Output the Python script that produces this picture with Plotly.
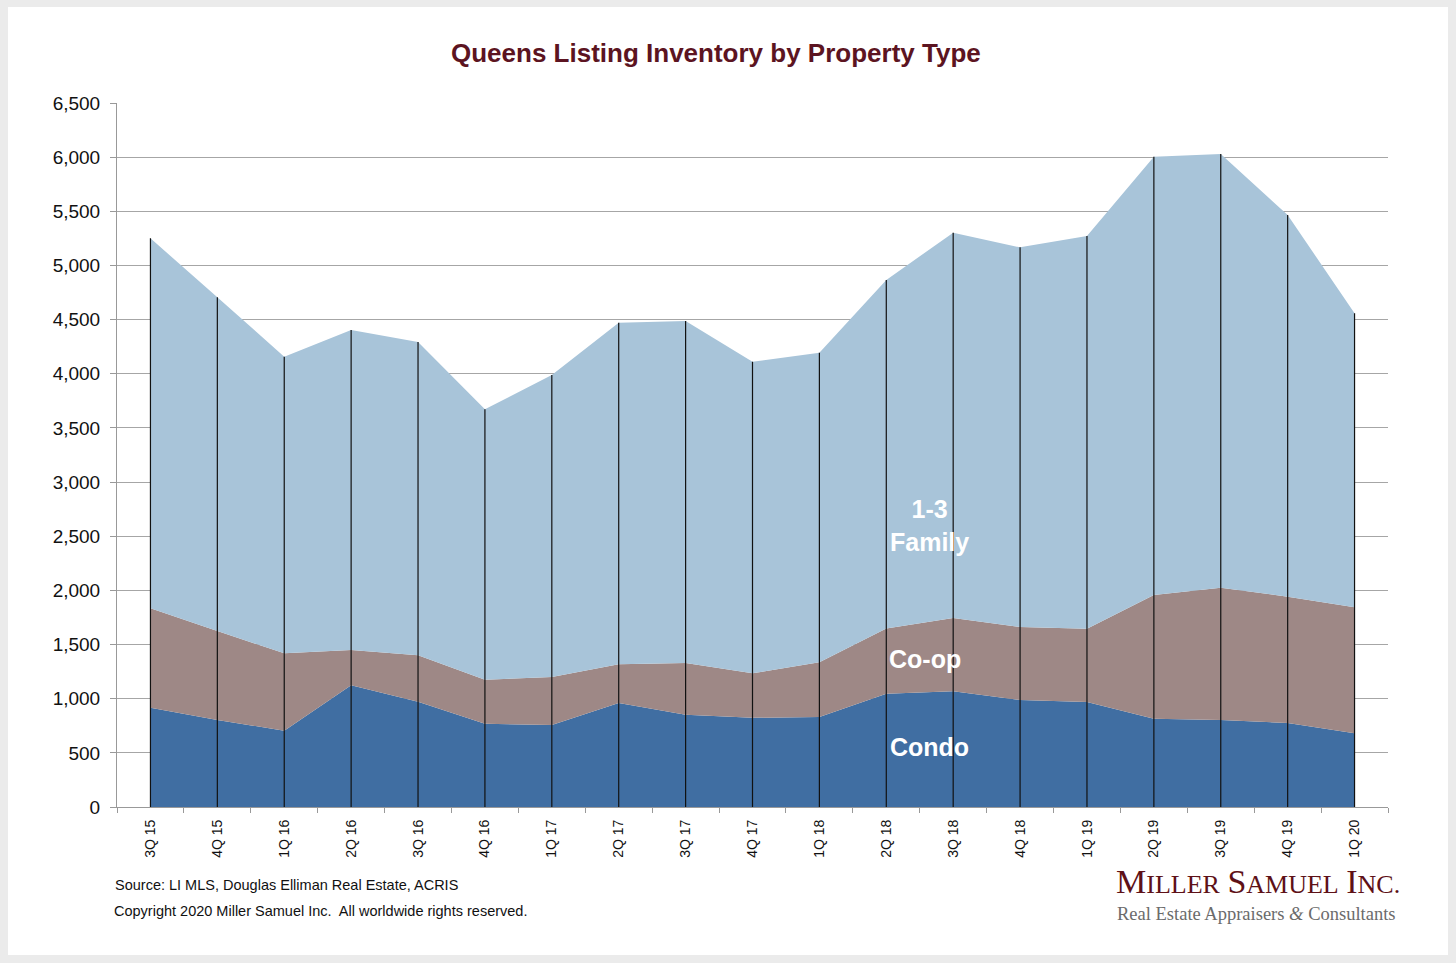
import plotly.graph_objects as go

quarters = ["3Q 15", "4Q 15", "1Q 16", "2Q 16", "3Q 16", "4Q 16", "1Q 17", "2Q 17",
            "3Q 17", "4Q 17", "1Q 18", "2Q 18", "3Q 18", "4Q 18", "1Q 19", "2Q 19",
            "3Q 19", "4Q 19", "1Q 20"]

condo = [917, 803, 705, 1124, 972, 769, 757, 960, 852, 824, 831, 1045, 1068, 988, 969,
         815, 803, 776, 680]
coop = [918, 822, 714, 326, 428, 406, 443, 357, 477, 410, 505, 603, 677, 674, 677,
        1142, 1222, 1166, 1164]
family = [3416, 3081, 2739, 2954, 2893, 2497, 2789, 3155, 3158, 2877, 2859, 3218, 3558,
          3505, 3626, 4047, 4004, 3524, 2714]

yticks = list(range(0, 7000, 500))

# total per quarter, used for the black drop lines
totals = [a + b + c for a, b, c in zip(condo, coop, family)]

fig = go.Figure()

fig.add_trace(go.Scatter(x=quarters, y=condo, name="Condo", stackgroup="one",
                         mode="none", fillcolor="#406ea2"))
fig.add_trace(go.Scatter(x=quarters, y=coop, name="Co-op", stackgroup="one",
                         mode="none", fillcolor="#9e8886"))
fig.add_trace(go.Scatter(x=quarters, y=family, name="1-3 Family", stackgroup="one",
                         mode="none", fillcolor="#a8c4d9"))

line_x, line_y = [], []
for q, t in zip(quarters, totals):
    line_x += [q, q, None]
    line_y += [0, t, None]
fig.add_trace(go.Scatter(x=line_x, y=line_y, mode="lines",
                         line=dict(color="#111111", width=1.2), hoverinfo="skip"))

white = "#ffffff"
lab_font = dict(family="Liberation Sans, Arial, sans-serif", size=25, color=white)
fig.add_annotation(x=11.64, y=2600, text="<b>1-3<br>Family</b>", showarrow=False,
                   font=lab_font, xref="x", yref="y")
fig.add_annotation(x=11.58, y=1366, text="<b>Co-op</b>", showarrow=False,
                   font=lab_font, xref="x", yref="y")
fig.add_annotation(x=11.64, y=554, text="<b>Condo</b>", showarrow=False,
                   font=lab_font, xref="x", yref="y")

# white card over the grey page
fig.add_shape(type="rect", xref="paper", yref="paper",
              x0=(8 - 117) / 1271, x1=(1448 - 117) / 1271,
              y0=(807 - 955) / 704, y1=(807 - 7) / 704,
              fillcolor="white", line=dict(width=0), layer="below")


def px(x, y):
    # page pixel -> paper coords
    return (x - 117) / 1271, (807 - y) / 704


tx, ty = px(716, 53)
fig.add_annotation(x=tx, y=ty, xref="paper", yref="paper", xanchor="center", yanchor="middle",
                   text="<b>Queens Listing Inventory by Property Type</b>",
                   showarrow=False, font=dict(size=26, color="#5c1421",
                                              family="Liberation Sans, Arial, sans-serif"))

foot = dict(size=14.5, color="#111111", family="Liberation Sans, Arial, sans-serif")
fx, fy = px(113, 885)
fig.add_annotation(x=fx, y=fy, xref="paper", yref="paper",
                   text="Source: LI MLS, Douglas Elliman Real Estate, ACRIS",
                   showarrow=False, xanchor="left", yanchor="middle", font=foot)
fx, fy = px(112, 911)
fig.add_annotation(x=fx, y=fy, xref="paper", yref="paper",
                   text="Copyright 2020 Miller Samuel Inc.  All worldwide rights reserved.",
                   showarrow=False, xanchor="left", yanchor="middle", font=foot)

big = "<span style='font-size:34px'>"
small = "<span style='font-size:26px'>"
logo = (big + "M</span>" + small + "ILLER</span> " + big + "S</span>" + small
        + "AMUEL</span> " + big + "I</span>" + small + "NC.</span>")
lx, ly = px(1402, 881)
fig.add_annotation(x=lx, y=ly, xref="paper", yref="paper",
                   text=logo, showarrow=False, xanchor="right", yanchor="middle",
                   font=dict(family="Liberation Serif, Times New Roman, serif",
                             size=30, color="#5e1117"))
lx, ly = px(1398, 914)
fig.add_annotation(x=lx, y=ly, xref="paper", yref="paper",
                   text="Real Estate Appraisers <i>&amp;</i> Consultants", showarrow=False,
                   xanchor="right", yanchor="middle",
                   font=dict(family="Liberation Serif, Times New Roman, serif",
                             size=18.5, color="#6b6b6b"))

fig.update_layout(
    width=1456, height=963,
    margin=dict(l=117, r=68, t=103, b=156),
    paper_bgcolor="#ebebeb", plot_bgcolor="white",
    showlegend=False,
    font=dict(family="Liberation Sans, Arial, sans-serif", color="#111111"),
)
fig.update_xaxes(type="category", range=[-0.5, 18.5], tickangle=-90,
                 tickson="boundaries", ticks="outside", ticklen=5, tickcolor="#999999",
                 showline=True, linecolor="#999999", linewidth=1, showgrid=False,
                 tickfont=dict(size=14), ticklabelstandoff=6, fixedrange=True)
fig.update_yaxes(range=[0, 6500], tickvals=yticks, tickformat=",", ticks="outside",
                 ticklen=6, tickcolor="#999999", showline=True, linecolor="#999999",
                 gridcolor="#a6a6a6", gridwidth=1, tickfont=dict(size=19),
                 ticklabelstandoff=6, zeroline=False)

fig.write_html("out.html", config={"displayModeBar": False},
               post_script="document.body.style.margin='0px';document.body.style.overflow='hidden';")
